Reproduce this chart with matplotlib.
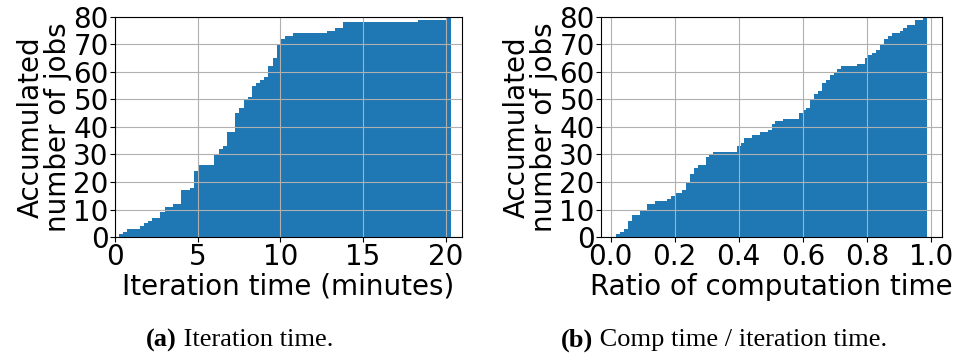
import numpy as np
import matplotlib
matplotlib.use("Agg")
import matplotlib.pyplot as plt

# (a) iteration time per job, in minutes, and how many jobs share that value
iter_time = [0.3, 0.55, 0.8, 1.5, 1.8, 2.05, 2.3, 2.8, 3.25, 3.55, 4.05, 4.55,
             4.8, 5.0, 5.25, 6.05, 6.3, 6.55, 6.8, 7.0, 7.3, 7.55, 7.8, 8.05,
             8.3, 8.55, 8.8, 9.05, 9.3, 9.55, 9.8, 10.1, 10.5, 10.85, 12.85,
             13.35, 14.05, 18.55, 20.3]
iter_count = [1, 1, 1, 1, 1, 1, 1, 2, 2, 1, 5, 1,
              2, 4, 2, 4, 2, 1, 1, 4, 7, 2, 3, 1,
              4, 1, 1, 1, 4, 3, 5, 2, 1, 1, 1,
              1, 2, 1, 1]

# (b) ratio of computation time to iteration time
comp_ratio = [0.022, 0.034, 0.047, 0.059, 0.072, 0.097, 0.119, 0.144, 0.182,
              0.191, 0.204, 0.229, 0.241, 0.254, 0.266, 0.279, 0.301, 0.314,
              0.326, 0.398, 0.41, 0.423, 0.448, 0.47, 0.494, 0.507, 0.52,
              0.544, 0.591, 0.604, 0.616, 0.629, 0.641, 0.654, 0.664, 0.676,
              0.688, 0.701, 0.714, 0.724, 0.774, 0.794, 0.81, 0.819, 0.832,
              0.844, 0.857, 0.87, 0.882, 0.907, 0.919, 0.929, 0.954, 0.982]
comp_count = [1, 1, 1, 3, 2, 2, 2, 1, 1,
              1, 1, 1, 3, 3, 2, 1, 3, 1,
              1, 2, 1, 2, 1, 1, 1, 2, 1,
              1, 2, 1, 1, 3, 2, 1, 3, 1,
              2, 1, 1, 1, 1, 2, 1, 1, 1,
              2, 2, 1, 1, 1, 1, 1, 2, 1]

jobs_a = np.repeat(iter_time, iter_count)
jobs_b = np.repeat(comp_ratio, comp_count)

plt.rcParams['font.family'] = 'DejaVu Sans'
plt.rcParams['font.size'] = 20

fig = plt.figure(figsize=(9.56, 3.54), dpi=100)
ax1 = fig.add_axes([0.1203, 0.3305, 0.363, 0.6215])
ax2 = fig.add_axes([0.6287, 0.3305, 0.3567, 0.6215])

ax1.hist(jobs_a, bins=80, range=(0.24, 20.34), cumulative=True, color='#1f77b4')
ax1.set_xlim(0, 21)
ax1.set_xticks([0, 5, 10, 15, 20])
ax1.set_xlabel("Iteration time (minutes)", labelpad=1)

ax2.hist(jobs_b, bins=80, range=(0.018, 0.987), cumulative=True, color='#1f77b4')
ax2.set_xlim(-0.03, 1.035)
ax2.set_xticks([0.0, 0.2, 0.4, 0.6, 0.8, 1.0])
ax2.set_xlabel("Ratio of computation time", labelpad=1)

for ax in (ax1, ax2):
    ax.set_ylim(0, 80)
    ax.set_yticks(range(0, 81, 10))
    ax.set_ylabel("Accumulated\nnumber of jobs", labelpad=1, linespacing=0.95)
    ax.grid(True)
    ax.tick_params(pad=1)

# captions under the panels: bold tag, then plain text anchored to its right
serif = ['Liberation Serif', 'DejaVu Serif']
cap_y = 1 - 340 / 354
ta = fig.text(146 / 956, cap_y, "(a)", family=serif, weight='bold',
              fontsize=19, va='center', ha='left')
tb = fig.text(561 / 956, cap_y, "(b)", family=serif, weight='bold',
              fontsize=19, va='center', ha='left')
fig.add_artist(plt.Annotation(" Iteration time.", xy=(1, 0.5), xycoords=ta,
                              va='center', ha='left', family=serif, fontsize=19))
fig.add_artist(plt.Annotation(" Comp time / iteration time.", xy=(1, 0.5),
                              xycoords=tb, va='center', ha='left',
                              family=serif, fontsize=19))

fig.savefig("out.png", dpi=100)
